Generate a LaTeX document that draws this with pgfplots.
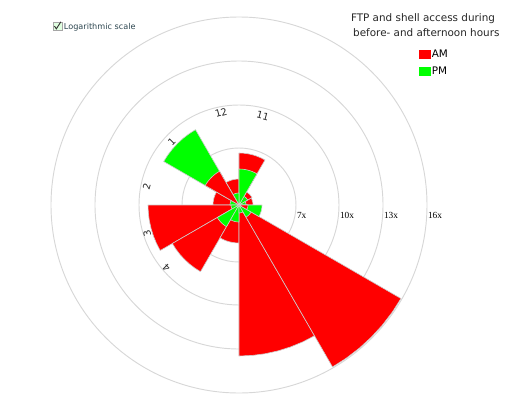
\documentclass[border=0pt]{standalone}
\usepackage{pgfplots}
\pgfplotsset{compat=1.18}
\usepgfplotslibrary{polar}
\usepackage{fontspec}
\setmainfont{DejaVu Sans}
\newfontfamily\serifft{Liberation Serif}
\definecolor{amred}{RGB}{255,0,0}
\definecolor{pmgreen}{RGB}{0,255,0}
\definecolor{ringgray}{RGB}{215,215,215}
\definecolor{edgegray}{RGB}{205,205,205}
\definecolor{slate}{RGB}{45,70,80}
\begin{document}
\begin{tikzpicture}
\path[use as bounding box] (-179.25pt,-145.5pt) rectangle (218.25pt,153.75pt);
\begin{polaraxis}[
  at={(0pt,0pt)}, anchor=center,
  scale only axis, width=282pt, height=282pt,
  xmin=0, xmax=360, ymin=0, ymax=188,
  xtick=\empty,
  ytick={57,100,144},
  yticklabels={,,},
  ymajorgrids,
  grid style={ringgray, line width=0.7pt},
  separate axis lines,
  x axis line style={ringgray, line width=0.7pt},
  y axis line style={draw=none},
  major tick length=0pt,
  clip=false,
  legend style={at={(0.978,0.915)}, anchor=north west, draw=none, fill=none,
    inner sep=0pt, font=\fontsize{7.8}{9}\selectfont, row sep=4.3pt,
    nodes={inner sep=0.6pt}},
  legend cell align=left,
  legend image code/.code={\fill[#1, draw=none] (0pt,-3.5pt) rectangle (9pt,3.5pt);},
  sector/.style={forget plot, draw=edgegray, line width=0.45pt, line join=round},
  am/.style={sector, fill=amred},
  pm/.style={sector, fill=pmgreen},
]
\addlegendimage{fill=amred, draw=none}
\addlegendentry{AM}
\addlegendimage{fill=pmgreen, draw=none}
\addlegendentry{PM}
% AM (red), one sector per hour: hour 9 at 0-30 deg, then counter-clockwise
\addplot[am] coordinates {(0,0) (0,14) (5,14) (10,14) (15,14) (20,14) (25,14) (30,14) (0,0)};   % 9
\addplot[am] coordinates {(0,0) (30,15) (35,15) (40,15) (45,15) (50,15) (55,15) (60,15) (0,0)}; % 10
\addplot[am] coordinates {(0,0) (60,52) (65,52) (70,52) (75,52) (80,52) (85,52) (90,52) (0,0)}; % 11
\addplot[am] coordinates {(0,0) (90,26) (95,26) (100,26) (105,26) (110,26) (115,26) (120,26) (0,0)}; % 12
\addplot[am] coordinates {(0,0) (120,39) (125,39) (130,39) (135,39) (140,39) (145,39) (150,39) (0,0)}; % 1
\addplot[am] coordinates {(0,0) (150,26) (155,26) (160,26) (165,26) (170,26) (175,26) (180,26) (0,0)}; % 2
\addplot[am] coordinates {(0,0) (180,91) (185,91) (190,91) (195,91) (200,91) (205,91) (210,91) (0,0)}; % 3
\addplot[am] coordinates {(0,0) (210,77) (215,77) (220,77) (225,77) (230,77) (235,77) (240,77) (0,0)}; % 4
\addplot[am] coordinates {(0,0) (240,38) (245,38) (250,38) (255,38) (260,38) (265,38) (270,38) (0,0)}; % 5
\addplot[am] coordinates {(0,0) (270,151) (275,151) (280,151) (285,151) (290,151) (295,151) (300,151) (0,0)}; % 6
\addplot[am] coordinates {(0,0) (300,187) (305,187) (310,187) (315,187) (320,187) (325,187) (330,187) (0,0)}; % 7
\addplot[am] coordinates {(0,0) (330,9) (335,9) (340,9) (345,9) (350,9) (355,9) (360,9) (0,0)}; % 8
% PM (green)
\addplot[pm] coordinates {(0,0) (0,7) (5,7) (10,7) (15,7) (20,7) (25,7) (30,7) (0,0)};   % 9
\addplot[pm] coordinates {(0,0) (30,10) (35,10) (40,10) (45,10) (50,10) (55,10) (60,10) (0,0)}; % 10
\addplot[pm] coordinates {(0,0) (60,36) (65,36) (70,36) (75,36) (80,36) (85,36) (90,36) (0,0)}; % 11
\addplot[pm] coordinates {(0,0) (90,12) (95,12) (100,12) (105,12) (110,12) (115,12) (120,12) (0,0)}; % 12
\addplot[pm] coordinates {(0,0) (120,87) (125,87) (130,87) (135,87) (140,87) (145,87) (150,87) (0,0)}; % 1
\addplot[pm] coordinates {(0,0) (150,9) (155,9) (160,9) (165,9) (170,9) (175,9) (180,9) (0,0)}; % 2
\addplot[pm] coordinates {(0,0) (180,8) (185,8) (190,8) (195,8) (200,8) (205,8) (210,8) (0,0)}; % 3
\addplot[pm] coordinates {(0,0) (210,25) (215,25) (220,25) (225,25) (230,25) (235,25) (240,25) (0,0)}; % 4
\addplot[pm] coordinates {(0,0) (240,17) (245,17) (250,17) (255,17) (260,17) (265,17) (270,17) (0,0)}; % 5
\addplot[pm] coordinates {(0,0) (270,8) (275,8) (280,8) (285,8) (290,8) (295,8) (300,8) (0,0)}; % 6
\addplot[pm] coordinates {(0,0) (300,14) (305,14) (310,14) (315,14) (320,14) (325,14) (330,14) (0,0)}; % 7
\addplot[pm] coordinates {(0,0) (330,23) (335,23) (340,23) (345,23) (350,23) (355,23) (360,23) (0,0)}; % 8
% the smaller value of each hour is drawn in front: AM again where AM < PM
\addplot[am] coordinates {(0,0) (120,39) (125,39) (130,39) (135,39) (140,39) (145,39) (150,39) (0,0)}; % 1
\addplot[am] coordinates {(0,0) (330,9) (335,9) (340,9) (345,9) (350,9) (355,9) (360,9) (0,0)}; % 8
% hour labels
\begin{scope}[every node/.style={font=\fontsize{7.3}{8}\selectfont, text=black!85, inner sep=0pt}]
\node[rotate=15]  at (axis cs:101,94) {12};
\node[rotate=-15] at (axis cs:75,92)  {11};
\node[rotate=45]  at (axis cs:137,92) {1};
\node[rotate=75]  at (axis cs:169,94) {2};
\node[rotate=105] at (axis cs:197,96) {3};
\node[rotate=135] at (axis cs:221,96) {4};
\end{scope}
% ring labels
\begin{scope}[every node/.style={font=\serifft\fontsize{7}{8}\selectfont, anchor=base west, inner sep=0.6pt, yshift=-9.75pt}]
\node at (axis cs:0,57)  {7x};
\node at (axis cs:0,100) {10x};
\node at (axis cs:0,144) {13x};
\node at (axis cs:0,188) {16x};
\end{scope}
\end{polaraxis}
% title
\node[anchor=north, align=center, inner sep=0pt, font=\fontsize{7.8}{11.25}\selectfont, text=black!85]
  at (138pt,144pt) {FTP and shell access during\\ \hspace*{5pt}before- and afternoon hours};
% checkbox
\node[draw=gray!70, fill=green!12, minimum width=6.5pt, minimum height=5.8pt, inner sep=0pt, anchor=south west]
  at (-139.5pt,131.2pt) {};
\draw[black!80, line width=0.7pt] (-138.4pt,134.2pt) -- (-137pt,132.1pt) -- (-133.6pt,137.4pt);
\node[anchor=base west, inner sep=0pt, font=\fontsize{6.1}{7}\selectfont, text=slate]
  at (-131.5pt,131.6pt) {Logarithmic scale};
\end{tikzpicture}
\end{document}
